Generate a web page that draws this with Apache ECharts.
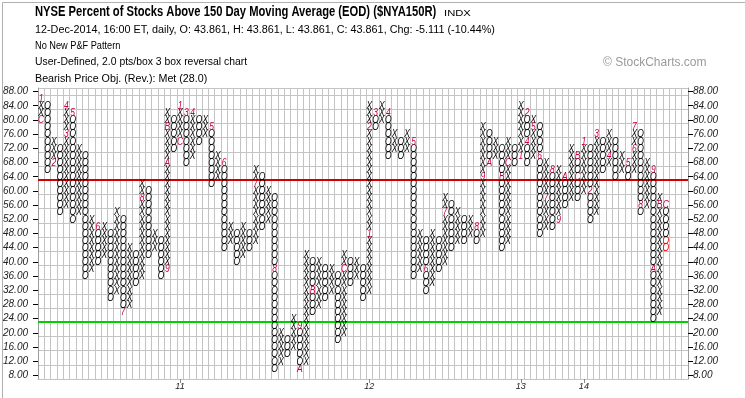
<!DOCTYPE html>
<html><head><meta charset="utf-8">
<script src="https://cdn.jsdelivr.net/npm/echarts@6/dist/echarts.min.js"></script>
<style>html,body{margin:0;padding:0;background:#fff}#c{width:745px;height:398px}</style>
</head><body><div id="c"></div>
<script>
// ---- data ----
const priceRows = [8,10,12,14,16,18,20,22,24,26,28,30,32,34,36,38,40,42,44,46,48,50,52,54,56,58,60,62,64,66,68,70,72,74,76,78,80,82,84,86,88];
const columnCount = 103;
// each column: kind (X rising / O falling), lowest box, highest box
const colKinds = ['X','O','X','O','X','O','X','O','X','O','X','O','X','O','X','O','X','O','X','O',
                  'X','O','X','O','X','O','X','O','X','O','X','O','X','O','X','O','X','O','X','O',
                  'X','O','X','O','X','O','X','O','X','O','X','O','X','O','X','O','X','O','X','O',
                  'X','O','X','O','X','O','X','O','X','O','X','O','X','O','X','O','X','O','X','O',
                  'X','O','X','O','X','O','X','O','X','O','X','O','X','O','X','O','X','O','X','O'];
const colLows  = [80,66,68,54,56,52,54,36,38,40,42,30,32,26,28,34,36,42,44,36,
                  38,72,74,68,70,74,76,62,64,44,46,40,42,44,46,50,52,10,12,14,
                  16,10,12,26,28,30,32,18,20,34,36,30,32,78,80,70,72,70,72,36,
                  38,32,34,38,40,44,46,46,48,46,48,68,70,44,46,68,70,68,70,48,
                  50,50,52,56,58,58,60,52,54,66,68,64,66,64,66,54,56,24,26,44];
const colHighs = [86,84,74,72,84,82,72,70,52,50,50,48,54,52,44,42,62,60,48,46,
                  82,80,84,82,82,80,80,78,70,68,50,48,50,48,66,64,60,58,20,18,
                  24,22,42,40,40,38,38,36,42,40,40,38,84,82,84,82,76,74,76,74,
                  48,46,48,46,58,56,54,52,52,50,78,76,74,72,74,72,84,82,80,78,
                  68,66,66,64,72,70,74,72,76,74,76,74,70,68,78,76,68,66,58,56];
// month markers [column, box value, label]
const monthMarks = [[0,80,'C'],[0,86,'1'],[2,68,'2'],[4,76,'3'],[4,84,'4'],[5,82,'5'],[9,50,'6'],[13,26,'7'],
  [16,58,'8'],[20,38,'9'],[20,68,'A'],[20,78,'B'],[22,74,'C'],[22,84,'1'],[23,82,'3'],[24,82,'4'],[27,78,'5'],
  [29,68,'6'],[34,62,'7'],[37,38,'8'],[41,22,'9'],[41,10,'A'],[43,32,'B'],[48,38,'C'],[52,48,'1'],[52,78,'2'],
  [53,82,'3'],[55,82,'4'],[59,74,'5'],[61,38,'6'],[64,54,'7'],[69,50,'8'],[70,64,'9'],[71,68,'A'],[73,64,'B'],
  [74,68,'C'],[76,70,'1'],[77,82,'2'],[77,74,'4'],[78,78,'5'],[79,70,'6'],[80,58,'7'],[81,66,'8'],[82,52,'9'],
  [83,64,'A'],[85,70,'B'],[85,64,'C'],[86,74,'1'],[87,60,'2'],[88,76,'3'],[90,70,'4'],[93,68,'5'],[94,72,'6'],
  [94,78,'7'],[95,56,'8'],[97,66,'9'],[97,38,'A'],[98,56,'B'],[99,56,'C']];
// latest boxes, drawn highlighted
const recentBoxes = [[99,46],[99,44]];
const yearTicks = [[22,'11'],[52,'12'],[76,'13'],[86,'14']];
const redLineLevel = 63, greenLineLevel = 23;
const lastValue = 43.86, lastRow = 42;

// ---- build ----
const rowIndex = v => priceRows.indexOf(v);
const markOf = {};
monthMarks.forEach(m => { markOf[m[0]+'_'+m[1]] = m[2]; });
const recentOf = {};
recentBoxes.forEach(m => { recentOf[m[0]+'_'+m[1]] = true; });
const boxes = [], boxText = [], boxColor = [];
for (let c = 0; c < colLows.length; c++) {
  for (let v = colLows[c]; v <= colHighs[c]; v += 2) {
    const key = c+'_'+v;
    boxes.push([c, rowIndex(v)]);
    if (markOf[key]) { boxText.push(markOf[key]); boxColor.push('#c8003c'); }
    else { boxText.push(colKinds[c]); boxColor.push(recentOf[key] ? '#ff0000' : '#000'); }
  }
}
const cats = Array.from({length: columnCount}, (_, i) => String(i));
const yearMap = {}; yearTicks.forEach(t => yearMap[t[0]] = t[1]);
const ylab = (v, side) => {
  const n = Number(v);
  if (n === lastRow) return side === 'r' ? '{r|<<' + lastValue.toFixed(2) + '}' : '{r|' + n.toFixed(2) + '}';
  return n.toFixed(2);
};
const FONT = '"Liberation Sans", Arial, sans-serif';
const chart = echarts.init(document.getElementById('c'), null, {renderer: 'canvas'});
const yAxisBase = {
  type: 'category', data: priceRows.map(String), boundaryGap: true,
  axisLine: {show: true, lineStyle: {color: '#9a9a9a'}},
  axisTick: {show: true, alignWithLabel: true, length: 5, lineStyle: {color: '#000'}},
  splitLine: {show: true, lineStyle: {color: '#c4c4c4', width: 1}},
};
const txt = (x, y, text, font, sx, fill) => ({type: 'text', x: x, y: y, scaleX: sx, silent: true,
  style: {text: text, font: font, fill: fill || '#000', textVerticalAlign: 'top', verticalAlign: 'top'}});
chart.setOption({
  animation: false,
  backgroundColor: '#fff',
  grid: {left: 35, top: 88, width: 653, height: 291, containLabel: false},
  xAxis: {
    type: 'category', data: cats, boundaryGap: true,
    axisLine: {show: true, lineStyle: {color: '#c4c4c4'}},
    axisTick: {show: true, alignWithLabel: true, length: 4, interval: (i) => yearMap[i] !== undefined, lineStyle: {color: '#888'}},
    axisLabel: {show: true, interval: 0, margin: 3, formatter: (v, i) => yearMap[i] || '', fontSize: 9, fontStyle: 'italic', color: '#222', fontFamily: FONT},
    splitLine: {show: true, interval: 0, lineStyle: {color: '#c4c4c4', width: 1}}
  },
  yAxis: [
    Object.assign({}, yAxisBase, {position: 'left',
      axisLabel: {margin: 10, fontSize: 10, fontStyle: 'italic', color: '#222', fontFamily: FONT,
        formatter: v => ylab(v, 'l'), rich: {r: {color: '#c8003c', fontSize: 10, fontStyle: 'italic', fontFamily: FONT}}}}),
    Object.assign({}, yAxisBase, {position: 'right', splitLine: {show: false},
      axisLabel: {margin: 5, fontSize: 10, fontStyle: 'italic', color: '#222', fontFamily: FONT,
        formatter: v => ylab(v, 'r'), rich: {r: {color: '#c8003c', fontSize: 10, fontStyle: 'italic', fontFamily: FONT}}}})
  ],
  graphic: [
    {type: 'rect', left: 0, top: 0, silent: true, shape: {width: 744, height: 397}, style: {fill: 'none', stroke: '#b0b0b0', lineWidth: 1}},
    txt(35, 5, 'NYSE Percent of Stocks Above 150 Day Moving Average (EOD) ($NYA150R)', 'bold 14px ' + FONT, 0.8),
    txt(444, 9, 'INDX', '9px ' + FONT, 1.25),
    txt(35, 25, '12-Dec-2014, 16:00 ET, daily, O: 43.861, H: 43.861, L: 43.861, C: 43.861, Chg: -5.111 (-10.44%)', '10px ' + FONT, 1.08),
    txt(35, 41, 'No New P&F Pattern', '10px ' + FONT, 0.92),
    txt(35, 57, 'User-Defined, 2.0 pts/box 3 box reversal chart', '10px ' + FONT, 1.04),
    txt(35, 74, 'Bearish Price Obj. (Rev.): Met (28.0)', '10px ' + FONT, 1.07),
    txt(603, 57, '\u00A9 StockCharts.com', '12px ' + FONT, 1, '#9a9a9a')
  ],
  series: [
    {
      type: 'custom', xAxisIndex: 0, yAxisIndex: 0, coordinateSystem: 'cartesian2d',
      data: [[0, rowIndex(redLineLevel - 1), rowIndex(redLineLevel + 1), 0], [0, rowIndex(greenLineLevel - 1), rowIndex(greenLineLevel + 1), 1]],
      renderItem: (params, api) => {
        const a = api.coord([0, api.value(1)])[1], b = api.coord([0, api.value(2)])[1];
        const y = Math.round((a + b) / 2);
        const cs = params.coordSys;
        return {type: 'line', shape: {x1: cs.x, y1: y, x2: cs.x + cs.width, y2: y},
          style: {stroke: api.value(3) === 0 ? '#d00000' : '#00d000', lineWidth: 2}};
      }, z: 3, silent: true
    },
    {
      type: 'custom', xAxisIndex: 0, yAxisIndex: 0, coordinateSystem: 'cartesian2d',
      data: boxes,
      renderItem: (params, api) => {
        const p = api.coord([api.value(0), api.value(1)]);
        return {type: 'text', x: p[0], y: p[1] + 0.5, scaleX: 0.85,
          style: {text: boxText[params.dataIndex], fill: boxColor[params.dataIndex], font: 'italic 10px ' + FONT, align: 'center', verticalAlign: 'middle'}};
      }, z: 4, silent: true
    }
  ]
});
</script></body></html>
